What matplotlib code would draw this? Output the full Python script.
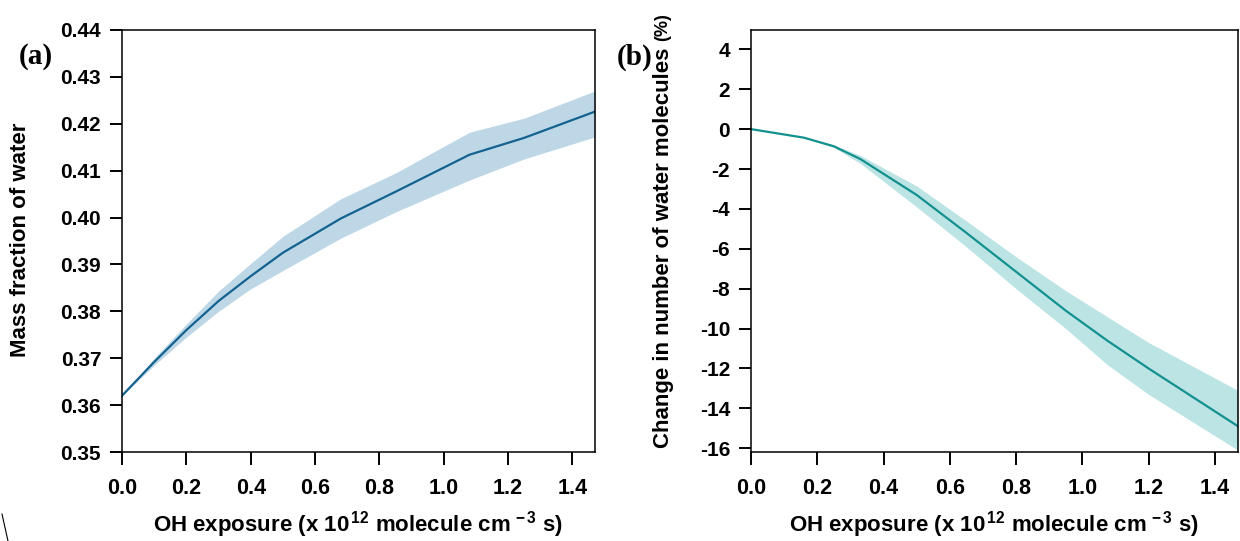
import matplotlib
matplotlib.use("Agg")
import matplotlib.pyplot as plt
from matplotlib.lines import Line2D

plt.rcParams['font.family'] = ['Liberation Sans', 'DejaVu Sans']
plt.rcParams['font.weight'] = 'bold'
plt.rcParams['mathtext.fontset'] = 'custom'
plt.rcParams['mathtext.rm'] = 'Liberation Sans:bold'
plt.rcParams['mathtext.it'] = 'Liberation Sans:bold'
plt.rcParams['mathtext.bf'] = 'Liberation Sans:bold'
plt.rcParams['mathtext.default'] = 'rm'

# ---- data panel (a): mass fraction of water ----
xa = [0.0, 0.1, 0.2, 0.3, 0.4, 0.5, 0.68, 0.85, 1.08, 1.25, 1.47]
wa_mid = [0.362, 0.3692, 0.3760, 0.3822, 0.3875, 0.3925, 0.3998, 0.4055, 0.4134, 0.4170, 0.4226]
wa_up = [0.362, 0.3700, 0.3773, 0.3843, 0.3902, 0.3960, 0.4040, 0.4095, 0.4182, 0.4212, 0.4270]
wa_lo = [0.362, 0.3685, 0.3745, 0.3800, 0.3848, 0.3887, 0.3956, 0.4012, 0.4080, 0.4125, 0.4172]

# ---- data panel (b): change in number of water molecules (%) ----
xb = [0.0, 0.16, 0.25, 0.33, 0.5, 0.65, 0.8, 0.95, 1.075, 1.2, 1.47]
nb_mid = [0.0, -0.43, -0.86, -1.5, -3.3, -5.2, -7.15, -9.1, -10.6, -12.0, -14.9]
nb_up = [0.0, -0.42, -0.80, -1.32, -2.85, -4.6, -6.4, -8.1, -9.4, -10.7, -13.1]
nb_lo = [0.0, -0.44, -0.92, -1.72, -3.9, -5.9, -8.0, -10.0, -11.8, -13.3, -16.1]

xticks = [0.0, 0.2, 0.4, 0.6, 0.8, 1.0, 1.2, 1.4]
xticklabels = ['0.0', '0.2', '0.4', '0.6', '0.8', '1.0', '1.2', '1.4']
yticks_a = [0.35, 0.36, 0.37, 0.38, 0.39, 0.40, 0.41, 0.42, 0.43, 0.44]
yticklabels_a = ['0.35', '0.36', '0.37', '0.38', '0.39', '0.40', '0.41', '0.42', '0.43', '0.44']
yticks_b = [-16, -14, -12, -10, -8, -6, -4, -2, 0, 2, 4]
yticklabels_b = ['-16', '-14', '-12', '-10', '-8', '-6', '-4', '-2', '0', '2', '4']

xlabel = 'OH exposure (x 10$^{\\,12}$ molecule cm$^{\\,-3}$ s)'

W, H = 1240, 541
fig = plt.figure(figsize=(W / 100, H / 100), dpi=100)

def fr(l, r, t, b):
    return [l / W, 1 - b / H, (r - l) / W, (b - t) / H]

axa = fig.add_axes(fr(122, 595, 30, 452))
axb = fig.add_axes(fr(751, 1238, 30, 452))

axa.fill_between(xa, wa_lo, wa_up, color='#bdd7e6', lw=0)
axa.plot(xa, wa_mid, color='#14628f', lw=1.6)
axb.fill_between(xb, nb_lo, nb_up, color='#bce4e4', lw=0)
axb.plot(xb, nb_mid, color='#13918f', lw=1.6)

for ax in (axa, axb):
    ax.set_xlim(0, 1.47)
    ax.set_xticks(xticks)
    ax.set_xticklabels(xticklabels, fontsize=15.5, fontweight='bold')
    for s in ax.spines.values():
        s.set_linewidth(1.1)
        s.set_color('black')
    ax.tick_params(axis='both', direction='out', length=9, width=1.4,
                   top=False, right=False)
    ax.tick_params(axis='x', pad=10)
    ax.tick_params(axis='y', pad=6)
    ax.set_xlabel(xlabel, fontsize=16, fontweight='bold', labelpad=7)

axa.set_ylim(0.35, 0.44)
axa.set_yticks(yticks_a)
axa.set_yticklabels(yticklabels_a, fontsize=15, fontweight='bold')
axb.set_ylim(-16.19, 4.97)
axb.set_yticks(yticks_b)
axb.set_yticklabels(yticklabels_b, fontsize=15, fontweight='bold')

fig.text(21 / W, 1 - 240 / H, 'Mass fraction of water', rotation=90,
         ha='center', va='center', fontsize=16, fontweight='bold')
fig.text(663 / W, 1 - 248 / H, 'Change in number of water molecules', rotation=90,
         ha='center', va='center', fontsize=16, fontweight='bold')
fig.text(663 / W, 1 - 27 / H, '(%)', rotation=90,
         ha='center', va='center', fontsize=13, fontweight='bold')

fig.text(36 / W, 1 - 57 / H, '(a)', ha='center', va='center', fontsize=21,
         fontweight='bold', family='Liberation Serif')
fig.text(635 / W, 1 - 57 / H, '(b)', ha='center', va='center', fontsize=21,
         fontweight='bold', family='Liberation Serif')

fig.add_artist(Line2D([2 / W, 8 / W], [1 - 514 / H, 0.0], color='black', lw=0.8))

fig.savefig('out.png', dpi=100)
